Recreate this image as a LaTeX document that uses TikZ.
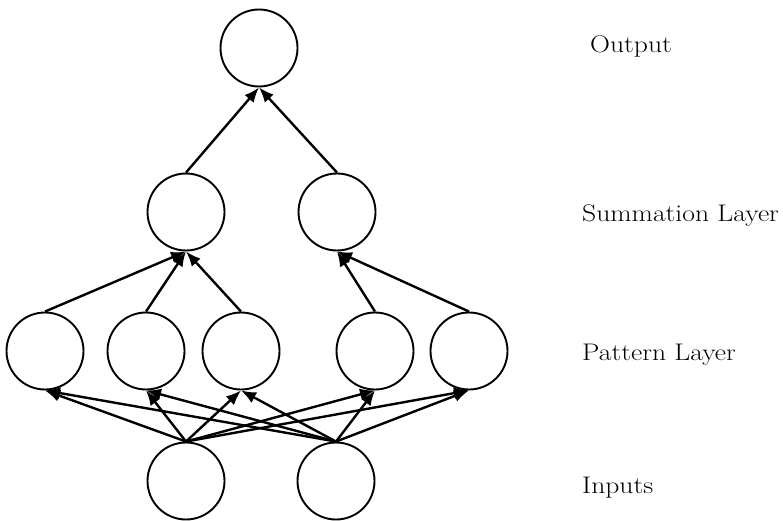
\documentclass[tikz,border=0pt]{standalone}
\usepackage{fontspec}
\setmainfont{Latin Modern Roman}[FakeStretch=1.15]
\usetikzlibrary{arrows.meta}
\begin{document}
\begin{tikzpicture}[x=1pt,y=-1pt,
  neuron/.style={draw,circle,line width=1.9pt,minimum size=77pt,inner sep=0pt},
  arr/.style={line width=2.4pt,-{Latex[length=15pt,width=12pt]}},
  lbl/.style={anchor=base west,inner sep=0pt,font=\fontsize{24}{29}\selectfont}]
\useasboundingbox (0,0) rectangle (783,521);
\node[neuron] (o) at (259,48) {};
\node[neuron] (s1) at (186,212) {};
\node[neuron] (s2) at (337,212) {};
\node[neuron] (p1) at (45,351) {};
\node[neuron] (p2) at (146,351) {};
\node[neuron] (p3) at (241,351) {};
\node[neuron] (p4) at (375,351) {};
\node[neuron] (p5) at (469,351) {};
\node[neuron] (i1) at (186,481) {};
\node[neuron] (i2) at (336,481) {};
\draw[arr] (s1.north) -- (o.south);
\draw[arr] (s2.north) -- (o.south);
\foreach \p in {p1,p2,p3} \draw[arr] (\p.north) -- (s1.south);
\foreach \p in {p4,p5} \draw[arr] (\p.north) -- (s2.south);
\foreach \i in {i1,i2} \foreach \p in {p1,p2,p3,p4,p5} \draw[arr] (\i.north) -- (\p.south);
\node[lbl] (t1) at (590,53) {Output};
\node[lbl] (t2) at (582,222) {Summation Layer};
\node[lbl] (t3) at (582,360) {Pattern Layer};
\node[lbl] (t4) at (582,493) {Inputs};
\end{tikzpicture}
\end{document}
